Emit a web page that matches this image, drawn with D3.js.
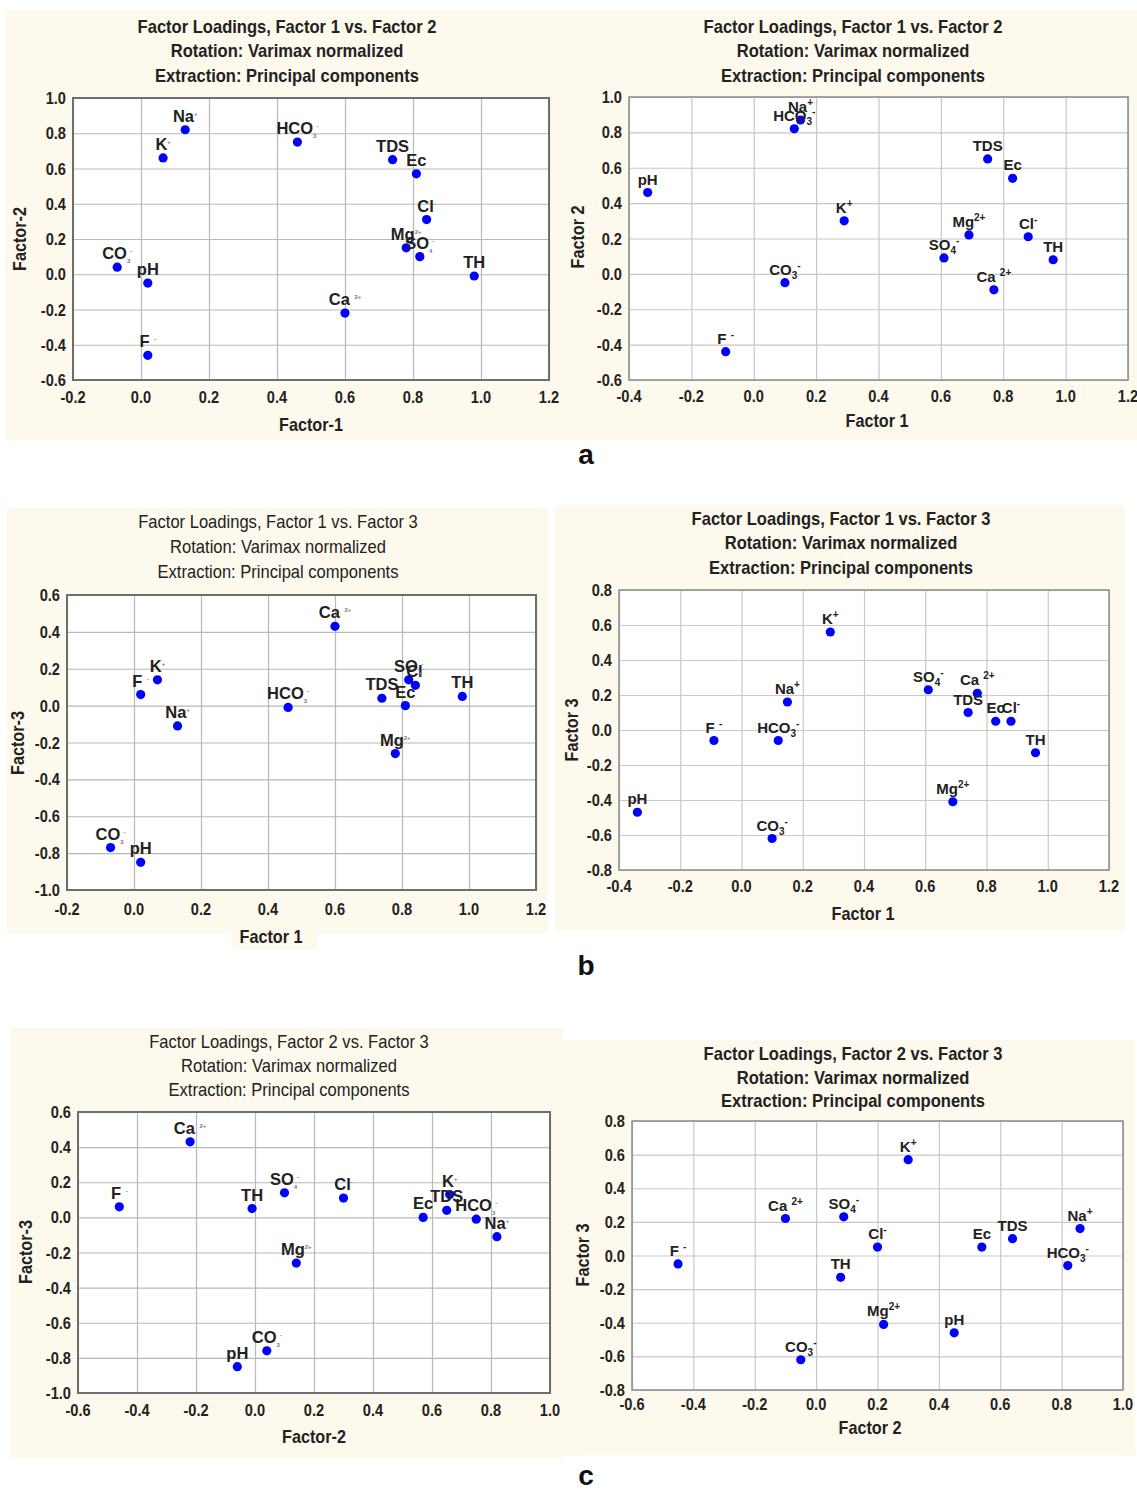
<!DOCTYPE html>
<html><head><meta charset="utf-8">
<script src="https://cdn.jsdelivr.net/npm/d3@7"></script>
<style>body{margin:0;background:#fff} svg{display:block}</style>
</head><body>
<svg id="fig" width="1137" height="1490"></svg>
<script>
// Hydrochemical variables, in the order the loadings are listed
const params = ["Na","K","HCO3","TDS","Ec","Cl","Mg","SO4","TH","Ca","CO3","pH","F"];

// (a) Factor 1 vs. Factor 2
const aLeftF1  = [0.13, 0.065, 0.46, 0.74, 0.81, 0.84, 0.78, 0.82, 0.98, 0.60, -0.07, 0.02, 0.02];
const aLeftF2  = [0.82, 0.66, 0.75, 0.65, 0.57, 0.31, 0.15, 0.10, -0.01, -0.22, 0.04, -0.05, -0.46];
const aRightF1 = [0.15, 0.29, 0.13, 0.75, 0.83, 0.88, 0.69, 0.61, 0.96, 0.77, 0.10, -0.34, -0.09];
const aRightF2 = [0.87, 0.30, 0.82, 0.65, 0.54, 0.21, 0.22, 0.09, 0.08, -0.09, -0.05, 0.46, -0.44];

// (b) Factor 1 vs. Factor 3
const bLeftF1  = [0.13, 0.07, 0.46, 0.74, 0.81, 0.84, 0.78, 0.82, 0.98, 0.60, -0.07, 0.02, 0.02];
const bLeftF3  = [-0.11, 0.14, -0.01, 0.04, 0.00, 0.11, -0.26, 0.14, 0.05, 0.43, -0.77, -0.85, 0.06];
const bRightF1 = [0.15, 0.29, 0.12, 0.74, 0.83, 0.88, 0.69, 0.61, 0.96, 0.77, 0.10, -0.34, -0.09];
const bRightF3 = [0.16, 0.56, -0.06, 0.10, 0.05, 0.05, -0.41, 0.23, -0.13, 0.21, -0.62, -0.47, -0.06];

// (c) Factor 2 vs. Factor 3
const cLeftF2  = [0.82, 0.66, 0.75, 0.65, 0.57, 0.30, 0.14, 0.10, -0.01, -0.22, 0.04, -0.06, -0.46];
const cLeftF3  = [-0.11, 0.13, -0.01, 0.04, 0.00, 0.11, -0.26, 0.14, 0.05, 0.43, -0.76, -0.85, 0.06];
const cRightF2 = [0.86, 0.30, 0.82, 0.64, 0.54, 0.20, 0.22, 0.09, 0.08, -0.10, -0.05, 0.45, -0.45];
const cRightF3 = [0.16, 0.57, -0.06, 0.10, 0.05, 0.05, -0.41, 0.23, -0.13, 0.22, -0.62, -0.46, -0.05];

// Tick values
const ticksFromM02 = [-0.2, 0.0, 0.2, 0.4, 0.6, 0.8, 1.0, 1.2];
const ticksFromM04 = [-0.4, -0.2, 0.0, 0.2, 0.4, 0.6, 0.8, 1.0, 1.2];
const ticksFromM06to10 = [-0.6, -0.4, -0.2, 0.0, 0.2, 0.4, 0.6, 0.8, 1.0];
const ticksFromM10to06 = [-1.0, -0.8, -0.6, -0.4, -0.2, 0.0, 0.2, 0.4, 0.6];
const ticksFromM08to08 = [-0.8, -0.6, -0.4, -0.2, 0.0, 0.2, 0.4, 0.6, 0.8];

// Titles and axis names
const title12 = ["Factor Loadings, Factor 1 vs. Factor 2", "Rotation: Varimax normalized", "Extraction: Principal components"];
const title13 = ["Factor Loadings, Factor 1 vs. Factor 3", "Rotation: Varimax normalized", "Extraction: Principal components"];
const title23 = ["Factor Loadings, Factor 2 vs. Factor 3", "Rotation: Varimax normalized", "Extraction: Principal components"];
const panelLetters = ["a", "b", "c"];

// Label pieces: base text, subscript, superscript
const labelSpec = {
  Na:   [["Na"], ["+", "sup"]],
  K:    [["K"], ["+", "sup"]],
  HCO3: [["HCO"], ["3", "sub"], ["-", "sup"]],
  TDS:  [["TDS"]],
  Ec:   [["Ec"]],
  Cl:   [["Cl"], ["-", "sup"]],
  Mg:   [["Mg"], ["2+", "sup"]],
  SO4:  [["SO"], ["4", "sub"], ["-", "sup"]],
  TH:   [["TH"]],
  Ca:   [["Ca "], ["2+", "sup"]],
  CO3:  [["CO"], ["3", "sub"], ["-", "sup"]],
  pH:   [["pH"]],
  F:    [["F "], ["-", "sup"]]
};

const SANS = "'Liberation Sans', Arial, sans-serif";
const CREAM = "#fdf9ec";
const INK = "#222";

const layout = [
  { x: aLeftF1,  y: aLeftF2,  xt: ticksFromM02, yt: ticksFromM06to10, plot: [73, 549, 98, 380],
    bg: [5, 10, 558, 430], title: title12, tBold: true, tx: 287, ty: [33, 57, 82],
    xName: "Factor-1", xn: [311, 431], yName: "Factor-2", yn: [26, 239], tickY: 403, small: true },
  { x: aRightF1, y: aRightF2, xt: ticksFromM04, yt: ticksFromM06to10, plot: [629, 1128, 97, 380],
    bg: [563, 10, 574, 430], title: title12, tBold: true, tx: 853, ty: [33, 57, 82],
    xName: "Factor 1", xn: [877, 427], yName: "Factor 2", yn: [584, 237], tickY: 402, small: false },
  { x: bLeftF1,  y: bLeftF3,  xt: ticksFromM02, yt: ticksFromM10to06, plot: [67, 536, 595, 890],
    bg: [7, 508, 541, 425], title: title13, tBold: false, tx: 278, ty: [528, 553, 578],
    xName: "Factor 1", xn: [271, 943], yName: "Factor-3", yn: [24, 743], tickY: 915, small: true,
    extraBg: [232, 925, 86, 24] },
  { x: bRightF1, y: bRightF3, xt: ticksFromM04, yt: ticksFromM08to08, plot: [619, 1109, 590, 870],
    bg: [555, 505, 570, 425], title: title13, tBold: true, tx: 841, ty: [525, 549, 574],
    xName: "Factor 1", xn: [863, 920], yName: "Factor 3", yn: [578, 730], tickY: 892, small: false },
  { x: cLeftF2,  y: cLeftF3,  xt: ticksFromM06to10, yt: ticksFromM10to06, plot: [78, 550, 1112, 1393],
    bg: [10, 1028, 553, 430], title: title23, tBold: false, tx: 289, ty: [1048, 1072, 1096],
    xName: "Factor-2", xn: [314, 1443], yName: "Factor-3", yn: [32, 1252], tickY: 1416, small: true },
  { x: cRightF2, y: cRightF3, xt: ticksFromM06to10, yt: ticksFromM08to08, plot: [632, 1123, 1121, 1390],
    bg: [563, 1040, 572, 415], title: title23, tBold: true, tx: 853, ty: [1060, 1084, 1107],
    xName: "Factor 2", xn: [870, 1434], yName: "Factor 3", yn: [589, 1255], tickY: 1410, small: false }
];

const fmt = v => (Math.abs(v) < 1e-9 ? 0 : v).toFixed(1);
const svg = d3.select("#fig");

// condensed-looking text: horizontally squeezed sans
function squeezed(sel, size, sx, bold) {
  return sel.style("font-family", SANS).style("font-size", size + "px")
    .style("font-weight", bold ? "bold" : "normal").attr("fill", INK);
}

layout.forEach(p => {
  const g = svg.append("g");
  const [px0, px1, py0, py1] = p.plot;
  const xs = d3.scaleLinear().domain(d3.extent(p.xt)).range([px0, px1]);
  const ys = d3.scaleLinear().domain(d3.extent(p.yt)).range([py1, py0]);

  // panel background
  g.append("rect").attr("x", p.bg[0]).attr("y", p.bg[1]).attr("width", p.bg[2]).attr("height", p.bg[3]).attr("fill", CREAM);
  if (p.extraBg) g.append("rect").attr("x", p.extraBg[0]).attr("y", p.extraBg[1]).attr("width", p.extraBg[2]).attr("height", p.extraBg[3]).attr("fill", CREAM);

  // titles
  squeezed(g.selectAll("text.title").data(p.title).join("text"), 18, 0.92, p.tBold)
    .attr("transform", (d, i) => `translate(${p.tx},${p.ty[i]}) scale(0.92,1)`)
    .attr("text-anchor", "middle").text(d => d);

  // plot area
  g.append("rect").attr("x", px0).attr("y", py0).attr("width", px1 - px0).attr("height", py1 - py0).attr("fill", "#fff");

  // grid via axes
  const gx = g.append("g").attr("transform", `translate(0,${py1})`)
    .call(d3.axisBottom(xs).tickValues(p.xt).tickSize(-(py1 - py0)).tickFormat(""));
  const gy = g.append("g").attr("transform", `translate(${px0},0)`)
    .call(d3.axisLeft(ys).tickValues(p.yt).tickSize(-(px1 - px0)).tickFormat(""));
  [gx, gy].forEach(a => {
    a.select(".domain").remove();
    a.selectAll(".tick line").attr("stroke", p.small ? "#b8b8b8" : "#c8c8c8").attr("stroke-width", 1.2);
  });

  // frame
  g.append("rect").attr("x", px0).attr("y", py0).attr("width", px1 - px0).attr("height", py1 - py0)
    .attr("fill", "none").attr("stroke", p.small ? "#6e6e6e" : "#8c8c8c").attr("stroke-width", p.small ? 2 : 1.5);

  // tick labels
  squeezed(g.selectAll("text.xt").data(p.xt).join("text"), 17, 0.86, true)
    .attr("transform", d => `translate(${xs(d)},${p.tickY}) scale(0.86,1)`)
    .attr("text-anchor", "middle").text(fmt);
  squeezed(g.selectAll("text.yt").data(p.yt).join("text"), 17, 0.86, true)
    .attr("transform", d => `translate(${px0 - 7},${ys(d) + 6}) scale(0.86,1)`)
    .attr("text-anchor", "end").text(fmt);

  // axis names
  squeezed(g.append("text"), 18, 0.9, true)
    .attr("transform", `translate(${p.xn[0]},${p.xn[1]}) scale(0.9,1)`)
    .attr("text-anchor", "middle").text(p.xName);
  squeezed(g.append("text"), 18, 0.9, true)
    .attr("transform", `translate(${p.yn[0]},${p.yn[1]}) rotate(-90) scale(0.9,1)`)
    .attr("text-anchor", "middle").text(p.yName);

  // points
  const pts = params.map((k, i) => ({ k, x: p.x[i], y: p.y[i] }));
  g.selectAll("circle").data(pts).join("circle")
    .attr("cx", d => xs(d.x)).attr("cy", d => ys(d.y)).attr("r", 4.6).attr("fill", "#0000ff");

  // point labels with sub/superscripts
  const smallSize = p.small ? 6 : 10;
  pts.forEach(d => {
    const t = g.append("text").attr("x", xs(d.x)).attr("y", ys(d.y) - 8).attr("text-anchor", "middle")
      .style("font-family", SANS).style("font-size", p.small ? "16.5px" : "15px")
      .style("font-weight", "bold").attr("fill", INK);
    let off = 0;
    labelSpec[d.k].forEach(([s, kind]) => {
      const target = kind === "sub" ? 4 : kind === "sup" ? -6 : 0;
      const ts = t.append("tspan").attr("dy", target - off).text(s);
      if (kind) ts.style("font-size", smallSize + "px").attr("fill", p.small ? "#777" : INK);
      off = target;
    });
  });
});

// panel letters
panelLetters.forEach((l, i) => {
  svg.append("text").attr("x", 586).attr("y", [464, 975, 1485][i]).attr("text-anchor", "middle")
    .style("font-family", SANS).style("font-size", "28px").style("font-weight", "bold")
    .attr("fill", "#111").text(l);
});
</script>
</body></html>
